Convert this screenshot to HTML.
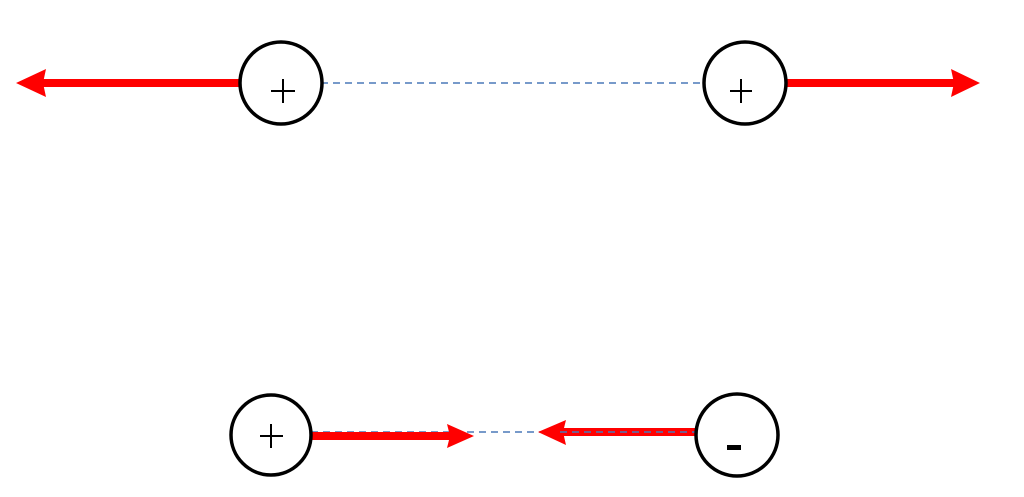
<!DOCTYPE html>
<html><head><style>body{margin:0;background:#fff}</style></head><body>
<svg width="1024" height="492" xmlns="http://www.w3.org/2000/svg">
<g stroke="#4a78b8" stroke-width="1.5" stroke-dasharray="7,5">
<line x1="321" y1="83" x2="705" y2="83"/>
<line x1="311" y1="432" x2="697" y2="432"/>
</g>
<g fill="#ff0000" stroke="none">
<rect x="40" y="79" width="201" height="8"/>
<polygon points="16,83 46,69 43,83 46,97"/>
<rect x="785" y="79" width="170" height="8"/>
<polygon points="980,83 951,69 954,83 951,97"/>
<rect x="312" y="432" width="140" height="8"/>
<polygon points="474,436 447,424 450,436 447,448"/>
<rect x="560" y="428" width="137" height="8"/>
<polygon points="538,432 566,420 563,432 566,445"/>
</g>
<g stroke="#4a78b8" stroke-width="1.5" stroke-dasharray="7,5">
<line x1="560" y1="432" x2="697" y2="432"/>
</g>
<g fill="#fff" stroke="#000" stroke-width="3.5">
<circle cx="281" cy="83" r="41"/>
<circle cx="745" cy="83" r="41"/>
<circle cx="271" cy="435" r="40"/>
<circle cx="737" cy="435" r="41"/>
</g>
<g stroke="#000" stroke-width="2">
<line x1="271" y1="91" x2="295" y2="91"/><line x1="283" y1="79" x2="283" y2="103"/>
<line x1="730" y1="91" x2="752" y2="91"/><line x1="741" y1="79" x2="741" y2="103"/>
<line x1="260" y1="436" x2="283" y2="436"/><line x1="271" y1="424" x2="271" y2="448"/>
</g>
<rect x="727" y="445" width="14" height="5" fill="#000"/>
<text x="-100" y="-100" font-family="Liberation Sans">+ + + -</text>
</svg>
</body></html>
